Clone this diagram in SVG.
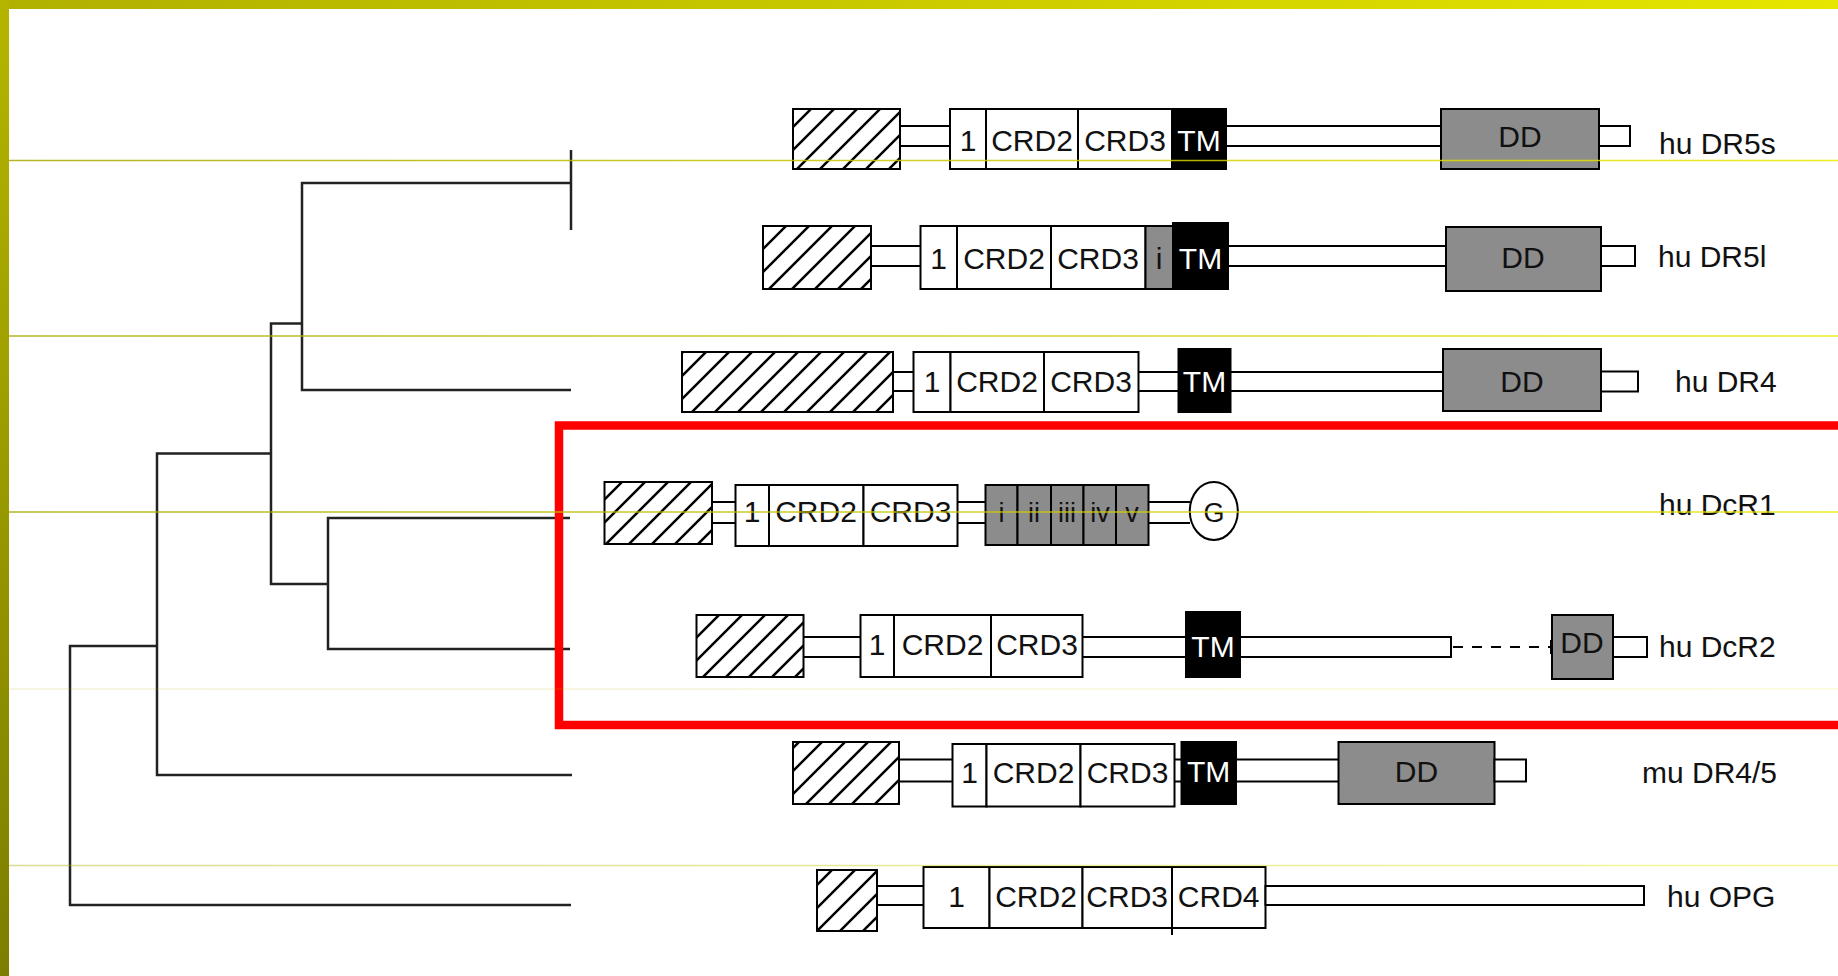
<svg xmlns="http://www.w3.org/2000/svg" width="1838" height="976" viewBox="0 0 1838 976">
<defs>
<linearGradient id="gTop" x1="0" y1="0" x2="1" y2="0"><stop offset="0" stop-color="#b0b000"/><stop offset="1" stop-color="#e6e600"/></linearGradient>
<linearGradient id="gLeft" x1="0" y1="0" x2="0" y2="1"><stop offset="0" stop-color="#b5b500"/><stop offset="1" stop-color="#7d7d00"/></linearGradient>
<linearGradient id="gLine" gradientUnits="userSpaceOnUse" x1="9" y1="0" x2="1838" y2="0"><stop offset="0" stop-color="#a8a800"/><stop offset="1" stop-color="#eaea00"/></linearGradient>
<pattern id="hatch" patternUnits="userSpaceOnUse" width="23" height="23">
<rect width="23" height="23" fill="#fff"/>
<path d="M-3,3 L3,-3 M0,23 L23,0 M20,26 L26,20" stroke="#000" stroke-width="2.5"/>
</pattern>
<style>
.box{fill:#fff;stroke:#000;stroke-width:2}
.hatch{fill:url(#hatch);stroke:#000;stroke-width:2}
.gray{fill:#8c8c8c;stroke:#000;stroke-width:2}
.tm{fill:#000;stroke:#000;stroke-width:2}
.ln{stroke:#000;stroke-width:2;fill:none}
.dash{stroke:#000;stroke-width:2;stroke-dasharray:10 9;fill:none}
.t{font-family:"Liberation Sans",Arial,Helvetica,sans-serif;font-size:30px;text-anchor:middle;fill:#111}
.ts{font-family:"Liberation Sans",Arial,Helvetica,sans-serif;font-size:27px;text-anchor:middle;fill:#111}
.tw{fill:#fff}
.lab{font-family:"Liberation Sans",Arial,Helvetica,sans-serif;font-size:30px;fill:#111}
.tree{stroke:#222;stroke-width:2.5;fill:none}
.guide{stroke:url(#gLine);stroke-width:1.3}
</style>
</defs>
<rect width="1838" height="976" fill="#fff"/>

<g id="connectors" class="tree">
<path d="M571,150 V230"/>
<path d="M571,183 H302 V390 H571"/>
<path d="M302,323.5 H271 V584 H328"/>
<path d="M570,518 H328 V649 H570"/>
<path d="M271,453.6 H157 V775 H572"/>
<path d="M157,646 H70 V905 H571"/>
</g>

<g id="dr5s">
<rect class="hatch" x="793" y="109" width="107" height="60"/>
<path class="ln" d="M900,126 H950 M900,146 H950"/>
<rect class="box" x="950" y="109" width="36" height="60"/>
<rect class="box" x="986" y="109" width="92" height="60"/>
<rect class="box" x="1078" y="109" width="94" height="60"/>
<rect class="tm" x="1172" y="109" width="54" height="60"/>
<text class="t" x="968" y="151">1</text>
<text class="t" x="1032" y="151">CRD2</text>
<text class="t" x="1125" y="151">CRD3</text>
<text class="t tw" x="1199" y="151">TM</text>
<path class="ln" d="M1226,126 H1441 M1226,146 H1441"/>
<rect class="gray" x="1441" y="109" width="158" height="60"/>
<text class="t" x="1520" y="147">DD</text>
<rect class="box" x="1599" y="126" width="31" height="20"/>
<text class="lab" x="1659" y="154">hu DR5s</text>
</g>

<g id="dr5l">
<rect class="hatch" x="763" y="226" width="108" height="63"/>
<path class="ln" d="M871,246 H920.5 M871,266 H920.5"/>
<rect class="box" x="920.5" y="226" width="36.5" height="63"/>
<rect class="box" x="957" y="226" width="94" height="63"/>
<rect class="box" x="1051" y="226" width="94.5" height="63"/>
<rect class="gray" x="1145.5" y="226" width="27.5" height="63"/>
<rect class="tm" x="1173" y="223" width="55" height="66"/>
<text class="t" x="938.7" y="269">1</text>
<text class="t" x="1004" y="269">CRD2</text>
<text class="t" x="1098" y="269">CRD3</text>
<text class="t" x="1159" y="269">i</text>
<text class="t tw" x="1200.5" y="269">TM</text>
<path class="ln" d="M1228,246 H1446 M1228,266 H1446"/>
<rect class="gray" x="1446" y="227" width="155" height="64"/>
<text class="t" x="1523" y="268">DD</text>
<rect class="box" x="1601" y="246" width="34" height="20"/>
<text class="lab" x="1658" y="267">hu DR5l</text>
</g>

<g id="dr4">
<rect class="hatch" x="682" y="352" width="211" height="60"/>
<path class="ln" d="M893,372 H913.5 M893,391 H913.5"/>
<rect class="box" x="913.5" y="352" width="37" height="60"/>
<rect class="box" x="950.5" y="352" width="93.5" height="60"/>
<rect class="box" x="1044" y="352" width="94.5" height="60"/>
<text class="t" x="932" y="392">1</text>
<text class="t" x="997" y="392">CRD2</text>
<text class="t" x="1091" y="392">CRD3</text>
<path class="ln" d="M1138.5,372 H1178.5 M1138.5,391 H1178.5"/>
<rect class="tm" x="1178.5" y="349" width="52" height="63"/>
<text class="t tw" x="1204.5" y="392">TM</text>
<path class="ln" d="M1230.5,372 H1443 M1230.5,391 H1443"/>
<rect class="gray" x="1443" y="349" width="158" height="62"/>
<text class="t" x="1522" y="392">DD</text>
<rect class="box" x="1601" y="371.5" width="37" height="20"/>
<text class="lab" x="1675" y="392">hu DR4</text>
</g>

<g id="dcr1">
<rect class="hatch" x="604.5" y="482" width="107.5" height="62"/>
<path class="ln" d="M712,502 H735.5 M712,523 H735.5"/>
<rect class="box" x="735.5" y="485" width="33.5" height="61"/>
<rect class="box" x="769" y="485" width="94.5" height="61"/>
<rect class="box" x="863.5" y="485" width="94" height="61"/>
<text class="t" x="752" y="522">1</text>
<text class="t" x="816" y="522">CRD2</text>
<text class="t" x="910.5" y="522">CRD3</text>
<path class="ln" d="M957.5,502 H985.5 M957.5,523 H985.5"/>
<rect class="gray" x="985.5" y="485" width="32" height="60"/>
<rect class="gray" x="1017.5" y="485" width="33.5" height="60"/>
<rect class="gray" x="1051" y="485" width="32.5" height="60"/>
<rect class="gray" x="1083.5" y="485" width="32.5" height="60"/>
<rect class="gray" x="1116" y="485" width="32.5" height="60"/>
<text class="ts" x="1001.5" y="522">i</text>
<text class="ts" x="1034" y="522">ii</text>
<text class="ts" x="1067" y="522">iii</text>
<text class="ts" x="1100" y="522">iv</text>
<text class="ts" x="1132" y="522">v</text>
<path class="ln" d="M1148.5,502 H1190 M1148.5,523 H1190"/>
<ellipse class="box" cx="1213.8" cy="511" rx="24" ry="29"/>
<text class="ts" x="1214" y="522">G</text>
<text class="lab" x="1659" y="515">hu DcR1</text>
</g>

<g id="dcr2">
<rect class="hatch" x="696.5" y="615" width="107" height="62"/>
<path class="ln" d="M803.5,637 H860.5 M803.5,657 H860.5"/>
<rect class="box" x="860.5" y="615" width="33.5" height="62"/>
<rect class="box" x="894" y="615" width="97" height="62"/>
<rect class="box" x="991" y="615" width="91.5" height="62"/>
<text class="t" x="877" y="655">1</text>
<text class="t" x="942.5" y="655">CRD2</text>
<text class="t" x="1037" y="655">CRD3</text>
<path class="ln" d="M1082.5,637 H1186 M1082.5,657 H1186"/>
<rect class="tm" x="1186" y="612" width="54" height="65"/>
<text class="t tw" x="1213" y="657">TM</text>
<rect class="box" x="1240" y="637" width="211" height="20"/>
<path class="dash" d="M1453,647 H1550"/>
<path class="ln" d="M1551,640 V654"/>
<rect class="gray" x="1552" y="615" width="61" height="64"/>
<text class="t" x="1582" y="653">DD</text>
<rect class="box" x="1613" y="637" width="34" height="20"/>
<text class="lab" x="1659" y="657">hu DcR2</text>
</g>

<g id="mudr45">
<rect class="hatch" x="793" y="742" width="106" height="62"/>
<path class="ln" d="M899,759.5 H952.5 M899,781.5 H952.5"/>
<rect class="box" x="952.5" y="744" width="34" height="62.5"/>
<rect class="box" x="986.5" y="744" width="94" height="62.5"/>
<rect class="box" x="1080.5" y="744" width="94" height="62.5"/>
<text class="t" x="969.5" y="783">1</text>
<text class="t" x="1033.5" y="783">CRD2</text>
<text class="t" x="1127.5" y="783">CRD3</text>
<path class="ln" d="M1174.5,759.5 H1181.5 M1174.5,781.5 H1181.5"/>
<rect class="tm" x="1181.5" y="742" width="54.5" height="62"/>
<text class="t tw" x="1208.7" y="782">TM</text>
<path class="ln" d="M1236,759.5 H1338.5 M1236,781.5 H1338.5"/>
<rect class="gray" x="1338.5" y="742" width="156" height="62"/>
<text class="t" x="1416.5" y="782">DD</text>
<rect class="box" x="1494.5" y="759.5" width="31.5" height="22"/>
<text class="lab" x="1642" y="783">mu DR4/5</text>
</g>

<g id="huopg">
<rect class="hatch" x="817" y="870" width="60" height="61"/>
<path class="ln" d="M877,886 H923.5 M877,905 H923.5"/>
<rect class="box" x="923.5" y="867" width="66" height="61"/>
<rect class="box" x="989.5" y="867" width="93" height="61"/>
<rect class="box" x="1082.5" y="867" width="89.5" height="61"/>
<rect class="box" x="1172" y="867" width="93.5" height="61"/>
<path class="ln" d="M1172,928 V935"/>
<text class="t" x="956.5" y="906.5">1</text>
<text class="t" x="1036" y="906.5">CRD2</text>
<text class="t" x="1127.2" y="906.5">CRD3</text>
<text class="t" x="1218.7" y="906.5">CRD4</text>
<rect class="box" x="1265.5" y="886" width="378.5" height="19"/>
<text class="lab" x="1667" y="907">hu OPG</text>
</g>

<rect id="highlight" x="559" y="425.5" width="1300" height="299.5" fill="none" stroke="#ff0000" stroke-width="8.5"/>

<g id="frame">
<line class="guide" x1="9" y1="160.5" x2="1838" y2="160.5" opacity="0.85"/>
<line class="guide" x1="9" y1="336" x2="1838" y2="336" opacity="0.85"/>
<line class="guide" x1="9" y1="512" x2="1838" y2="512" opacity="0.85"/>
<line class="guide" x1="9" y1="689" x2="1838" y2="689" opacity="0.15"/>
<line class="guide" x1="9" y1="865.5" x2="1838" y2="865.5" opacity="0.4"/>
<rect x="0" y="0" width="1838" height="9" fill="url(#gTop)"/>
<rect x="0" y="0" width="9" height="976" fill="url(#gLeft)"/>
</g>
</svg>
